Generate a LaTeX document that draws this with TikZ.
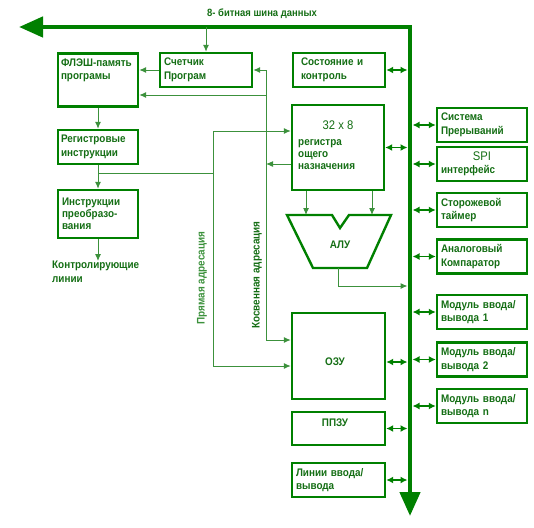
\documentclass[tikz,border=0pt]{standalone}
\usepackage{fontspec}
\setmainfont{Liberation Sans}[FakeStretch=0.9]
\usetikzlibrary{arrows.meta, positioning}
\definecolor{boxgreen}{RGB}{0,128,0}
\definecolor{textgreen}{RGB}{20,110,20}
\definecolor{linegreen}{RGB}{60,145,60}

\begin{document}
\begin{tikzpicture}[
  x=1pt, y=-1pt,
  box/.style={draw=boxgreen, line width=2.4pt, align=left, inner sep=0pt, font=\bfseries\fontsize{11}{13.5}\selectfont, text=textgreen},
  side/.style={box, minimum width=90, minimum height=34, text width=82},
  txt/.style={align=left, inner sep=0pt, font=\bfseries\fontsize{11}{13.5}\selectfont, text=textgreen},
  big/.style={inner sep=0pt, font=\fontsize{12.5}{14}\selectfont, text=textgreen},
  bus/.style={draw=boxgreen, line width=4.5pt, line join=miter, {Triangle[length=24pt, width=20pt]}-{Triangle[length=24pt, width=20pt]}},
  dbl/.style={draw=boxgreen, line width=1.4pt, {Latex[length=7pt,width=7pt]}-{Latex[length=7pt,width=7pt]}},
  arr/.style={draw=linegreen, line width=1pt, -{Latex[length=7pt,width=6pt]}},
  wire/.style={draw=linegreen, line width=1pt},
  alushape/.style={draw=boxgreen, line width=2.4pt, line join=miter}
]
\useasboundingbox (0,0) rectangle (534,527);

% data bus
\coordinate (busleft) at (19,27);
\coordinate (buscorner) at (410,27);
\coordinate (busend) at (410,516);
\coordinate (busl) at (407.5,27);
\coordinate (busr) at (412.5,27);
\draw[bus] (busleft) -- (buscorner) -- (busend);
\node[txt, font=\bfseries\fontsize{10.5}{11}\selectfont] (buslabel) at (262,14) {8- битная шина данных};

% left column
\node[box, minimum width=80, minimum height=53] (flash) at (98,80) {};
\node[txt, anchor=north west] (flashtxt) at ([shift={(4,6)}]flash.north west) {ФЛЭШ-память\\програмы};
\node[box, minimum width=80, minimum height=34, text width=74] (reginstr) at (98,147) {Регистровые\\инструкции};
\node[box, minimum width=80, minimum height=48, text width=72, font=\bfseries\fontsize{11}{12}\selectfont] (convinstr) at (98,214) {Инструкции\\преобразо-\\вания};
\node[txt, anchor=north west] (ctrl) at (52,261) {Контролирующие\\линии};

% middle column
\node[box, minimum width=92, minimum height=34, text width=84] (counter) at (206,70) {Счетчик\\Програм};
\node[box, minimum width=92, minimum height=34, text width=76] (state) at (339,70) {Состояние и\\контроль};
\node[box, minimum width=92, minimum height=85] (regs) at (338,147.5) {};
\node[big] (regsize) at (338,125) {32 x 8};
\node[txt, anchor=north west, font=\bfseries\fontsize{11}{12}\selectfont] (regtxt) at (298,139) {регистра\\ощего\\назначения};
\draw[alushape] (287,215) -- (332,215) -- (340,228) -- (349,215) -- (391,215) -- (367,268) -- (313,268) -- cycle;
\node[txt] (alu) at (340,245) {АЛУ};
\coordinate (aluout) at (338,268);
\coordinate (alujoin) at (338,286);
\node[box, minimum width=93, minimum height=86] (ram) at (338.5,356) {};
\node[txt] (ramtxt) at (335,362) {ОЗУ};
\node[box, minimum width=93, minimum height=33] (eeprom) at (338.5,428.5) {};
\node[txt] (eepromtxt) at (335,423) {ППЗУ};
\node[box, minimum width=93, minimum height=34, text width=85] (iolines) at (338.5,480) {Линии ввода/\\вывода};

% right column
\node[side] (irq) at (482,125) {Система\\Прерываний};
\node[side] (spi) at (482,164) {\makebox[82pt]{\mdseries\fontsize{12.5}{14}\selectfont SPI}\\интерфейс};
\node[side] (wdt) at (482,210) {Сторожевой\\таймер};
\node[side] (comp) at (482,256.5) {Аналоговый\\Компаратор};
\node[side] (io1) at (482,312) {Модуль ввода/\\вывода 1};
\node[side] (io2) at (482,359.5) {Модуль ввода/\\вывода 2};
\node[side] (ion) at (482,406) {Модуль ввода/\\вывода n};

% program flow
\draw[arr] (counter.north |- buscorner) -- (counter.north);
\draw[arr] (counter.west) -- (flash.east |- counter.west);
\draw[arr] (flash.south) -- (reginstr.north);
\draw[arr] (reginstr.south) -- (convinstr.north);
\draw[arr] (convinstr.south) -- (convinstr.south |- ctrl.north);

% direct addressing
\coordinate (dirtop) at (213,131);
\coordinate (dirtap) at (213,173);
\coordinate (dirbot) at (213,366);
\draw[wire] (dirtap -| reginstr.south) -- (dirtap);
\draw[arr] (dirbot) -- (dirtop) -- (dirtop -| regs.west);
\draw[arr] (dirtap) -- (dirbot) -- (dirbot -| ram.west);
\node[txt, rotate=90, text=linegreen] (direct) at (202,278) {Прямая адресация};

% indirect addressing
\coordinate (indtop) at (266,70);
\coordinate (indflash) at (266,95);
\coordinate (indreg) at (266,164);
\coordinate (indbot) at (266,340);
\draw[arr] (indbot) -- (indtop) -- (counter.east);
\draw[arr] (indflash) -- (indflash -| flash.east);
\draw[arr] (indreg -| regs.west) -- (indreg);
\draw[arr] (indtop) -- (indbot) -- (indbot -| ram.west);
\node[txt, rotate=90] (indirect) at (257,275) {Косвенная адресация};

% ALU
\draw[arr] (regs.south -| 306,0) -- (306,215);
\draw[arr] (regs.south -| 372,0) -- (372,215);
\draw[arr] (aluout) -- (alujoin) -- (alujoin -| busl);

% bus links
\draw[dbl] (state.east) -- (state.east -| busl);
\draw[dbl] (regs.east) -- (regs.east -| busl);
\draw[dbl] (ram.east |- ramtxt) -- (ramtxt -| busl);
\draw[dbl] (eeprom.east) -- (eeprom.east -| busl);
\draw[dbl] (iolines.east) -- (iolines.east -| busl);
\draw[dbl] (busr |- irq.west) -- (irq.west);
\draw[dbl] (busr |- spi.west) -- (spi.west);
\draw[dbl] (busr |- wdt.west) -- (wdt.west);
\draw[dbl] (busr |- comp.west) -- (comp.west);
\draw[dbl] (busr |- io1.west) -- (io1.west);
\draw[dbl] (busr |- io2.west) -- (io2.west);
\draw[dbl] (busr |- ion.west) -- (ion.west);
\end{tikzpicture}
\end{document}
